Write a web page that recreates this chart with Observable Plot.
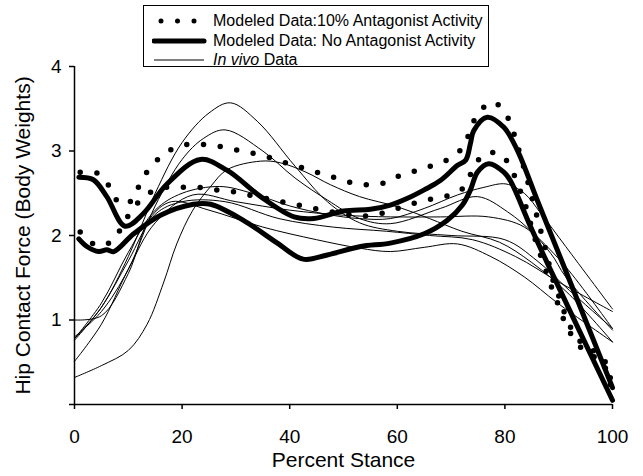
<!DOCTYPE html>
<html>
<head>
<meta charset="utf-8">
<script src="https://cdn.jsdelivr.net/npm/d3@7"></script>
<script src="https://cdn.jsdelivr.net/npm/@observablehq/plot@0.6"></script>
<style>
  html, body { margin: 0; padding: 0; background: #fff; }
  #wrap { position: relative; width: 643px; height: 476px; font-family: "Liberation Sans", Arial, sans-serif; color: #000; }
  #legend { position: absolute; left: 143px; top: 5px; width: 346px; height: 62px; border: 1px solid #000; background: #fff; box-sizing: border-box; }
  .lrow { position: absolute; left: 0; height: 20px; width: 100%; }
  .lrow svg { position: absolute; left: 8px; top: 0; }
  .lrow span { position: absolute; left: 69px; top: 0; font-size: 16px; line-height: 20px; white-space: nowrap; }
  #chart { position: absolute; left: 0; top: 0; }
</style>
</head>
<body>
<div id="wrap">
  <div id="chart"></div>
  <div id="legend">
    <div class="lrow" style="top:5px"><svg width="56" height="20"><line x1="9" y1="10" x2="50" y2="10" stroke="#000" stroke-width="5" stroke-linecap="round" stroke-dasharray="0 16.5"/></svg><span>Modeled Data:10% Antagonist Activity</span></div>
    <div class="lrow" style="top:24.5px"><svg width="56" height="20"><line x1="2" y1="10" x2="52" y2="10" stroke="#000" stroke-width="5" stroke-linecap="round"/></svg><span>Modeled Data: No Antagonist Activity</span></div>
    <div class="lrow" style="top:44px"><svg width="56" height="20"><line x1="2" y1="10" x2="52" y2="10" stroke="#000" stroke-width="1"/></svg><span><i>In vivo</i> Data</span></div>
  </div>
</div>
<script>
// ---- tick labels ----
const xTicks = [0, 20, 40, 60, 80, 100];
const yTicks = [0, 1, 2, 3, 4];

// ---- Modeled data: no antagonist activity (thick) ----
const thickAP = [0.8, 3.5, 6, 9.4, 12.8, 17.2, 23.4, 28.4, 34.6, 40.8, 44.5, 50, 55, 58.7, 61.9, 65, 68, 71.2, 72.7, 73.6, 74.2, 76.7, 79.8, 82.3, 86, 91, 100];
const thickAV = [2.69, 2.66, 2.46, 2.11, 2.26, 2.61, 2.90, 2.77, 2.46, 2.22, 2.20, 2.29, 2.31, 2.36, 2.44, 2.54, 2.65, 2.83, 2.89, 3.09, 3.24, 3.40, 3.28, 3.01, 2.42, 1.63, 0.20];
const thickBP = [0.8, 2.3, 4.5, 6, 7.3, 11, 16, 22.1, 25.3, 31.4, 37.7, 42.5, 47, 53.2, 58.7, 65, 69.3, 72.1, 73.6, 74.9, 77, 79.8, 81, 84.8, 88.5, 100];
const thickBV = [1.96, 1.87, 1.81, 1.83, 1.81, 2.02, 2.24, 2.37, 2.37, 2.18, 1.91, 1.72, 1.77, 1.87, 1.91, 2.02, 2.18, 2.36, 2.54, 2.75, 2.85, 2.75, 2.65, 2.10, 1.59, 0.05];

// ---- Modeled data: 10% antagonist activity (dotted) ----
const dotAP = [1.06, 4.2, 6.6, 8.5, 10.9, 12.2, 14.2, 17.2, 20.3, 23.4, 26.5, 29.6, 32.7, 35.8, 38.8, 41.9, 45, 48.1, 51.2, 54.3, 57.4, 60.5, 63.6, 66.6, 69.7, 72.4, 73.6, 75.1, 77.8, 80.3, 81.6, 82.5, 84.2, 85.9, 87.5, 89, 90.1, 91.1, 92.5, 95, 98, 100];
const dotAV = [2.75, 2.74, 2.57, 2.37, 2.43, 2.62, 2.81, 2.99, 3.07, 3.08, 3.06, 3.02, 2.98, 2.93, 2.87, 2.81, 2.75, 2.69, 2.63, 2.60, 2.62, 2.71, 2.77, 2.83, 2.91, 3.06, 3.26, 3.45, 3.58, 3.42, 3.22, 3.03, 2.65, 2.24, 1.85, 1.46, 1.27, 1.08, 0.88, 0.68, 0.58, 0.20];
const dotBP = [1.06, 4.2, 7.1, 9.1, 11, 13.8, 17.1, 20, 23.1, 26.2, 29.3, 32.4, 35.4, 38.5, 41.6, 44.6, 47.7, 50.8, 53.9, 57, 60, 63.1, 66.2, 69.3, 72.4, 73.9, 76.1, 79.2, 81.3, 82.6, 83.7, 85.4, 86.5, 87.6, 88.6, 89.8, 90.9, 92.5, 95, 98.1, 100];
const dotBV = [2.04, 1.88, 1.94, 2.14, 2.33, 2.50, 2.57, 2.57, 2.57, 2.54, 2.52, 2.48, 2.44, 2.40, 2.36, 2.32, 2.28, 2.25, 2.23, 2.26, 2.32, 2.38, 2.43, 2.47, 2.57, 2.76, 2.96, 2.96, 2.77, 2.57, 2.38, 2.00, 1.79, 1.59, 1.40, 1.20, 1.01, 0.81, 0.62, 0.50, 0.12];

// ---- In vivo data (thin) ----
const vivoAP = [0, 5, 10, 15, 20, 25, 29, 34, 41, 47, 53, 60, 70, 80, 86, 92, 100];
const vivoAV = [0.78, 1.15, 1.75, 2.5, 3.1, 3.45, 3.57, 3.35, 2.82, 2.4, 2.15, 2.05, 2.0, 1.95, 1.7, 1.35, 0.9];
const vivoBP = [0, 5, 10, 15, 20, 24, 28, 35, 41, 47, 53, 58.7, 68, 74.9, 80.5, 85.4, 91.3, 100];
const vivoBV = [0.8, 1.1, 1.6, 2.35, 2.9, 3.15, 3.25, 3.0, 2.68, 2.42, 2.2, 2.14, 2.32, 2.46, 2.28, 2.02, 1.63, 0.9];
const vivoCP = [0, 5, 10, 13.5, 16.6, 19, 22, 25.3, 28.4, 34.6, 38.3, 43, 47.6, 53, 60, 66, 72, 79, 85, 92, 100];
const vivoCV = [0.32, 0.46, 0.64, 0.95, 1.45, 1.9, 2.3, 2.58, 2.78, 2.88, 2.86, 2.75, 2.6, 2.46, 2.34, 2.2, 2.05, 1.92, 1.68, 1.3, 0.74];
const vivoDP = [0, 5, 10, 15, 20, 27, 33, 40, 47, 53, 58.7, 65, 71.2, 76.1, 80.2, 83.6, 86.7, 91.3, 100];
const vivoDV = [0.78, 1.2, 1.8, 2.3, 2.5, 2.58, 2.5, 2.35, 2.25, 2.2, 2.2, 2.32, 2.48, 2.57, 2.61, 2.50, 2.26, 1.87, 1.13];
const vivoEP = [0, 5, 10, 15, 22, 30, 40, 50, 58.7, 68, 77, 83.6, 88.5, 91.3, 100];
const vivoEV = [0.51, 0.95, 1.6, 2.15, 2.48, 2.4, 2.3, 2.24, 2.22, 2.22, 2.22, 2.10, 1.79, 1.51, 0.88];
const vivoFP = [0, 5, 10, 14, 18, 25, 35, 45, 53, 58.7, 65, 71.2, 77.4, 83.6, 89.8, 100];
const vivoFV = [1.0, 1.05, 1.55, 2.2, 2.4, 2.3, 2.1, 1.95, 1.85, 1.81, 1.86, 1.90, 1.75, 1.51, 1.20, 0.74];
const vivoGP = [0, 5, 10, 15, 20, 28, 38, 48, 58, 66, 74, 82, 90, 100];
const vivoGV = [0.76, 1.15, 1.7, 2.25, 2.4, 2.4, 2.2, 2.1, 2.05, 2.0, 1.95, 1.75, 1.45, 1.1];

// ---- build tables ----
function rows(name, ps, vs) { return ps.map((p, i) => ({ name, p, v: vs[i] })); }
const thickRows = [...rows("A", thickAP, thickAV), ...rows("B", thickBP, thickBV)];
const dotRows = [...rows("A", dotAP, dotAV), ...rows("B", dotBP, dotBV)];
const vivoRows = [
  ...rows("A", vivoAP, vivoAV), ...rows("B", vivoBP, vivoBV), ...rows("C", vivoCP, vivoCV),
  ...rows("D", vivoDP, vivoDV), ...rows("E", vivoEP, vivoEV), ...rows("F", vivoFP, vivoFV),
  ...rows("G", vivoGP, vivoGV)
];

const chart = Plot.plot({
  width: 643,
  height: 476,
  marginLeft: 74,
  marginRight: 31,
  marginTop: 66,
  marginBottom: 72,
  x: { domain: [0, 100] },
  y: { domain: [0, 4] },
  style: { fontFamily: "Liberation Sans, Arial, sans-serif", fontSize: "19px", color: "#000", background: "#fff" },
  marks: [
    Plot.line(vivoRows, { x: "p", y: "v", z: "name", stroke: "#000", strokeWidth: 1, curve: "catmull-rom" }),
    Plot.line(thickRows, { x: "p", y: "v", z: "name", stroke: "#000", strokeWidth: 5, curve: "catmull-rom", strokeLinejoin: "round" }),
    Plot.line(dotRows, { x: "p", y: "v", z: "name", stroke: "#000", strokeWidth: 5.5, strokeLinecap: "round", strokeDasharray: "0 16.8", curve: "catmull-rom" }),
    Plot.ruleX([0], { stroke: "#000", strokeWidth: 1.5 }),
    Plot.ruleY([0], { stroke: "#000", strokeWidth: 1.5 }),
    Plot.axisX({ ticks: xTicks, tickSize: 5, tickPadding: 20, label: null, fontSize: 19, stroke: "#000", strokeWidth: 1.5 }),
    Plot.axisY({ ticks: yTicks, tickSize: 5, tickPadding: 8, label: null, fontSize: 19, tickFormat: d => d === 0 ? "" : String(d), stroke: "#000", strokeWidth: 1.5 }),
    Plot.text(["Hip Contact Force (Body Weights)"], { frameAnchor: "left", textAnchor: "middle", dx: -51, rotate: -90, fontSize: 21 }),
    Plot.text(["Percent Stance"], { frameAnchor: "bottom", textAnchor: "middle", dy: 62, fontSize: 21 })
  ]
});
document.getElementById("chart").appendChild(chart);
</script>
</body>
</html>
